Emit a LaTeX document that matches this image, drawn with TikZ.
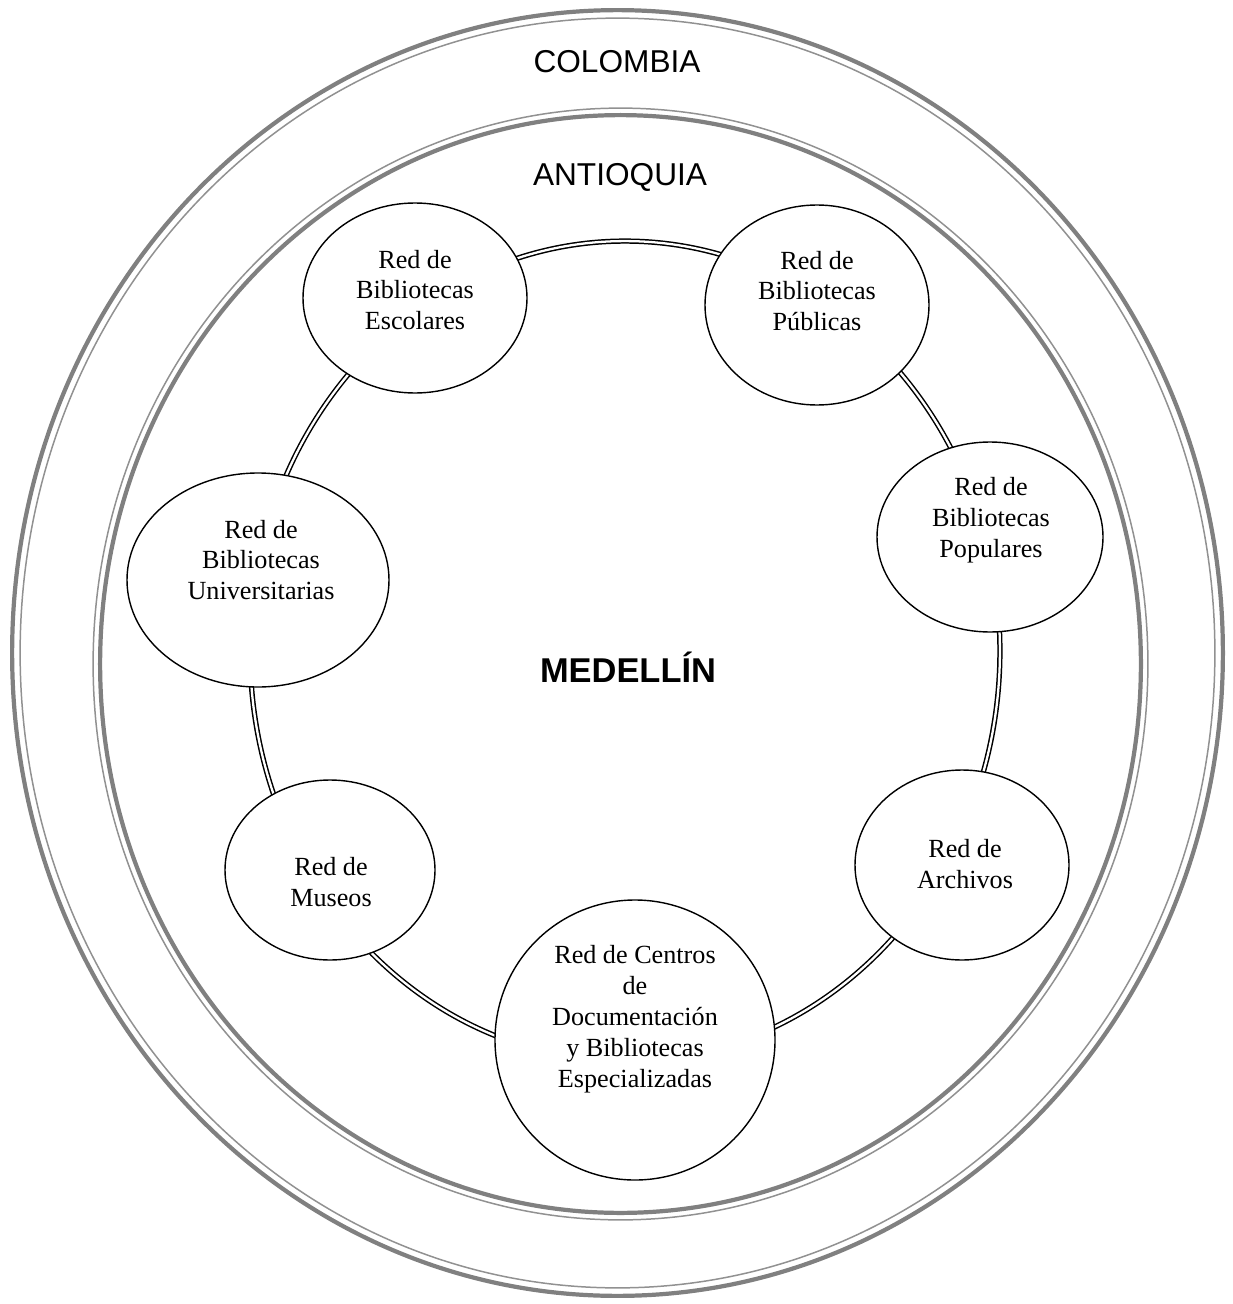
\documentclass[tikz,border=0pt]{standalone}
\usepackage{fontspec}
\setmainfont{Liberation Serif}
\newfontfamily\arialfont{Liberation Sans}
\usetikzlibrary{shapes.geometric}
\definecolor{grisos}{RGB}{128,128,128}
\definecolor{grisclaro}{RGB}{145,145,145}
\tikzset{
  circulo/.style 2 args={draw, ellipse, fill=white, line width=0.8pt, inner sep=0pt,
    minimum width=#1*0.02cm, minimum height=#2*0.02cm},
  rotulo/.style={align=center, inner sep=0pt, font=\fontsize{14.9}{17.6}\selectfont},
  region/.style={font=\arialfont\fontsize{18}{21}\selectfont},
  grueso/.style={draw=grisos, line width=2.4pt},
  fino/.style={draw=grisclaro, line width=0.85pt},
  anillo/.style={draw=black, line width=0.85pt, double=white, double distance=1.3pt}
}
\begin{document}
\begin{tikzpicture}[x=0.02cm, y=-0.02cm]
      \useasboundingbox (0,0) rectangle (1232,1304);
      % Colombia
      \draw[grueso] (617.5,653) ellipse [x radius=12.11cm, y radius=12.86cm];
      \draw[fino] (617.5,653) ellipse [x radius=11.95cm, y radius=12.70cm];
      % Antioquia
      \draw[fino] (620.5,664) ellipse [x radius=10.55cm, y radius=11.12cm];
      \draw[grueso] (620.5,664) ellipse [x radius=10.41cm, y radius=10.98cm];
      % Medellin
      \draw[anillo] (625,651) ellipse [x radius=7.5cm, y radius=8.2cm];
      \draw
        (617,62) node[region] (colombia){COLOMBIA}
        (620,177) node[region] (antioquia){ANTIOQUIA}
        (628,667) node[font=\arialfont\bfseries\fontsize{19.6}{23}\selectfont] (medellin){MEDELLÍN};
      \draw
        (415,298) node[circulo={224}{190}] (escolares){}
        (817,305) node[circulo={224}{200}] (publicas){}
        (990,537) node[circulo={226}{190}] (populares){}
        (962,865) node[circulo={214}{190}] (archivos){}
        (635,1040) node[circulo={280}{280}] (centros){}
        (330,870) node[circulo={210}{180}] (museos){}
        (258,580) node[circulo={262}{214}] (universitarias){};
      \draw
        (415,290) node[rotulo] (escolares-t){Red de\\Bibliotecas\\Escolares}
        (817,291) node[rotulo] (publicas-t){Red de\\Bibliotecas\\Públicas}
        (991,520) node[rotulo] (populares-t){Red de\\Bibliotecas\\Populares}
        (965,864) node[rotulo] (archivos-t){Red de\\Archivos}
        (635,1019) node[rotulo] (centros-t){Red de Centros\\de\\Documentación\\y Bibliotecas\\Especializadas}
        (331,882) node[rotulo] (museos-t){Red de\\Museos}
        (261,560) node[rotulo] (universitarias-t){Red de\\Bibliotecas\\Universitarias};
    \end{tikzpicture}
\end{document}
